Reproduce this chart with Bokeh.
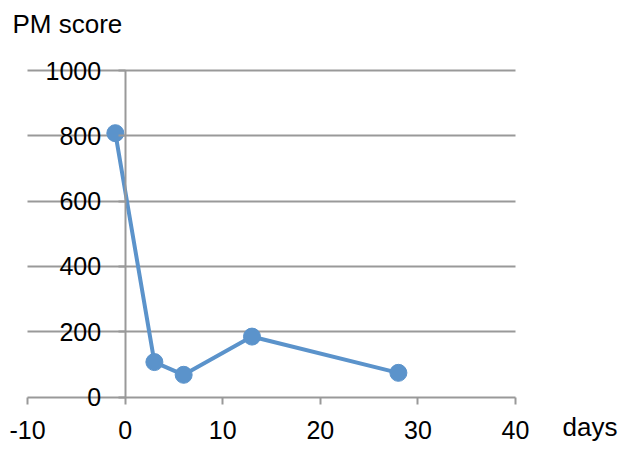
from bokeh.plotting import figure
from bokeh.models import Range1d, LinearAxis, Label, FixedTicker, Grid, PrintfTickFormatter
from bokeh.embed import file_html
from bokeh.resources import INLINE

days = [-1, 3, 6, 13, 28]
pm_score = [808, 107, 68, 185, 74]
x_ticks = [-10, 0, 10, 20, 30, 40]
y_ticks = [0, 200, 400, 600, 800, 1000]
x_lim = (-10, 40)
y_lim = (0, 1000)

FONT = "Liberation Sans"
FS = "25px"
GRAY = "#999999"
BLUE = "#5b93cb"

W, H = 623, 450
# frame covers the whole canvas; ranges chosen so the axes sit where the reference has them
px_x = 9.76
x0_px = 124.6
px_y = 0.3265
y0_px = 396.5

p = figure(width=W, height=H, output_backend="svg", toolbar_location=None,
           x_range=Range1d(-x0_px / px_x, (W - x0_px) / px_x),
           y_range=Range1d((y0_px - H) / px_y, y0_px / px_y),
           x_axis_type=None, y_axis_type=None,
           min_border=0)
p.outline_line_color = None
p.background_fill_color = "white"
p.border_fill_color = "white"

grid = Grid(dimension=1, ticker=FixedTicker(ticks=y_ticks[1:]), grid_line_color=GRAY,
            grid_line_width=2, cross_bounds=x_lim)
p.add_layout(grid)

yax = LinearAxis(fixed_location=0, ticker=FixedTicker(ticks=y_ticks), bounds=y_lim)
xax = LinearAxis(fixed_location=0, ticker=FixedTicker(ticks=x_ticks), bounds=x_lim)
for ax in (xax, yax):
    ax.axis_line_color = GRAY
    ax.axis_line_width = 2
    ax.major_tick_line_color = GRAY
    ax.major_tick_line_width = 2
    ax.major_tick_in = 0
    ax.major_tick_out = 7
    ax.minor_tick_line_color = None
    ax.major_label_text_font = FONT
    ax.major_label_text_font_size = FS
    ax.major_label_text_color = "black"
    ax.formatter = PrintfTickFormatter(format="%d")
yax.major_label_standoff = 17
xax.major_label_standoff = 17
p.add_layout(yax, "left")
p.add_layout(xax, "below")

p.line(days, pm_score, line_color=BLUE, line_width=4)
p.scatter(days, pm_score, size=17, fill_color=BLUE, line_color=BLUE)

p.add_layout(Label(x=12, y=H - 23, x_units="screen", y_units="screen", text="PM score",
                   text_font=FONT, text_font_size="26px", text_color="black",
                   text_baseline="alphabetic"))
p.add_layout(Label(x=562, y=H - 426, x_units="screen", y_units="screen", text="days",
                   text_font=FONT, text_font_size="26px", text_color="black",
                   text_baseline="alphabetic"))

open("out.html", "w").write(file_html(p, INLINE))
